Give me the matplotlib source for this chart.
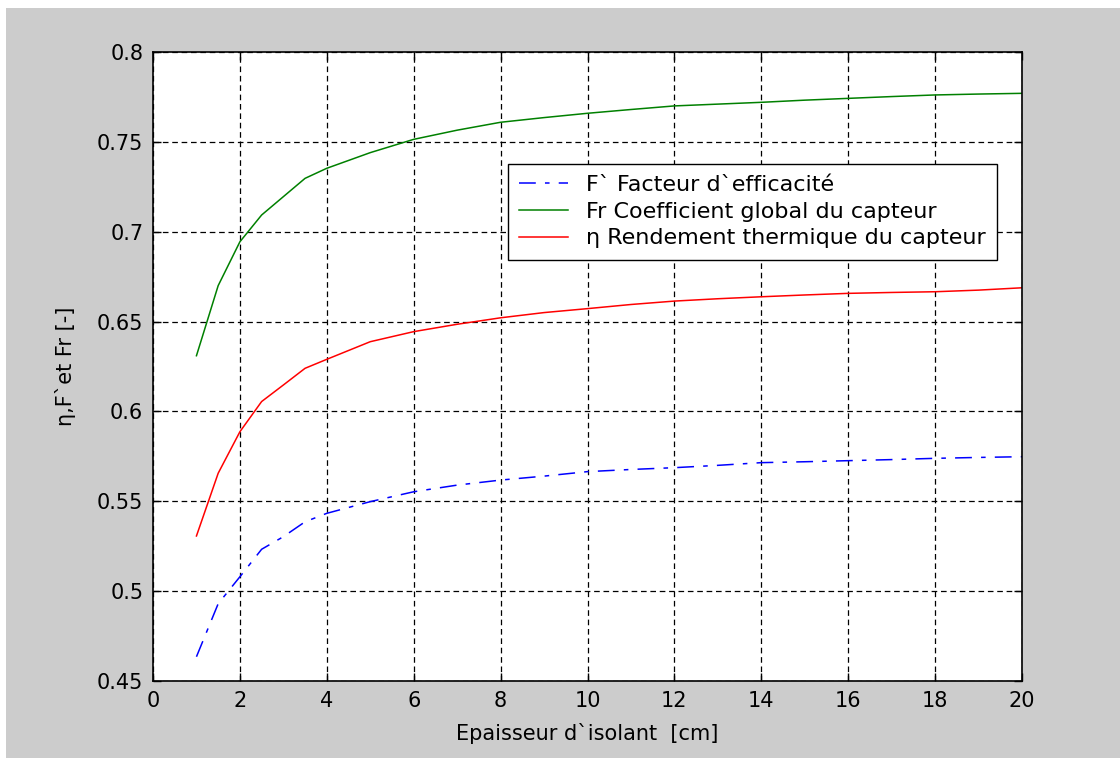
import matplotlib.pyplot as plt
from matplotlib.patches import Rectangle

# epaisseur d'isolant (cm)
e = [1, 1.5, 2, 2.5, 3, 3.5, 4, 5, 6, 7, 8, 9, 10, 11, 12, 13, 14, 15, 16, 17, 18, 19, 20]

# F` facteur d'efficacite
F = [0.4635, 0.493, 0.508, 0.5233, 0.5303, 0.5386, 0.5433, 0.5498, 0.5553, 0.559, 0.5618,
     0.564, 0.5665, 0.5677, 0.5687, 0.570, 0.5715, 0.572, 0.5726, 0.5732, 0.5739, 0.5744, 0.5748]
# Fr coefficient global
Fr = [0.631, 0.670, 0.6944, 0.7093, 0.7195, 0.7297, 0.7353, 0.744, 0.7514, 0.7565, 0.7609,
      0.7635, 0.7659, 0.768, 0.770, 0.771, 0.772, 0.7732, 0.7742, 0.7752, 0.7761, 0.7766, 0.777]
# rendement thermique
eta = [0.5307, 0.5656, 0.5887, 0.6055, 0.6147, 0.624, 0.629, 0.6388, 0.6444, 0.6485, 0.6521,
       0.655, 0.6572, 0.6595, 0.6614, 0.6627, 0.6638, 0.6648, 0.6657, 0.6662, 0.6666, 0.6675, 0.6688]

labels = ["F` Facteur d`efficacité",
          "Fr Coefficient global du capteur",
          "η Rendement thermique du capteur"]

plt.rcParams['font.family'] = ['DejaVu Sans']
fs = 15

fig = plt.figure(figsize=(11.2, 7.58), dpi=100)
fig.patch.set_facecolor('white')
# fond gris facon matlab (bande blanche en haut et a gauche)
fig.patches.append(Rectangle((6 / 1120, 0), 1, 1 - 8 / 758, transform=fig.transFigure,
                             facecolor='#cccccc', edgecolor='none', zorder=-10))

ax = fig.add_axes([153 / 1120, 77 / 758, 869 / 1120, 629 / 758])
ax.set_facecolor('white')

ax.plot(e, F, color=(0, 0, 1), lw=1.1, dashes=(11, 6, 3, 6), label=labels[0])
ax.plot(e, Fr, color=(0, 0.5, 0), lw=1.1, label=labels[1])
ax.plot(e, eta, color=(1, 0, 0), lw=1.1, label=labels[2])

ax.set_xlim(0, 20)
ax.set_ylim(0.45, 0.8)
ax.set_xticks(range(0, 21, 2))
ax.set_yticks([0.45, 0.5, 0.55, 0.6, 0.65, 0.7, 0.75, 0.8])
ax.set_yticklabels(['0.45', '0.5', '0.55', '0.6', '0.65', '0.7', '0.75', '0.8'])
ax.grid(True, color='black', linestyle=(0, (4.5, 3)), lw=0.9)
ax.tick_params(direction='in', length=6, width=1, top=True, right=True,
               labelsize=fs, colors='black')
ax.tick_params(axis='y', pad=7)
ax.tick_params(axis='x', pad=7)
for s in ax.spines.values():
    s.set_linewidth(1.2)

ax.set_xlabel("Epaisseur d`isolant  [cm]", fontsize=fs, labelpad=9)
ax.set_ylabel("η,F`et Fr [-]", fontsize=fs, labelpad=15)

leg = ax.legend(loc='upper left', bbox_to_anchor=(0.4085, 0.822), fontsize=16,
                frameon=True, fancybox=False, edgecolor='black', framealpha=1,
                handlelength=2.2, handletextpad=0.8, borderpad=0.5, labelspacing=0.3,
                borderaxespad=0)
leg.get_frame().set_linewidth(1.0)

fig.savefig('out.png', dpi=100, facecolor=fig.get_facecolor())
